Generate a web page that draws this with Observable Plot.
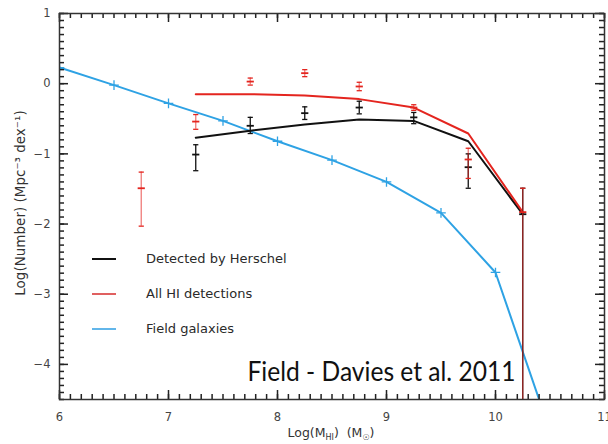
<!DOCTYPE html>
<html>
<head>
<meta charset="utf-8">
<script src="https://cdn.jsdelivr.net/npm/d3@7"></script>
<script src="https://cdn.jsdelivr.net/npm/@observablehq/plot@0.6"></script>
<style>
  html, body { margin: 0; padding: 0; background: #fff; }
  #wrap { position: relative; width: 608px; height: 444px; overflow: hidden; }
  #legend { position: absolute; left: 92px; top: 241px; font: 13px "DejaVu Sans", sans-serif; color: #2a2a2a; }
  #legend .row { height: 35px; display: flex; align-items: center; }
  #legend .sw { width: 24px; height: 2px; margin-right: 30px; }
</style>
</head>
<body>
<div id="wrap"></div>
<script>
// ---- tick labels ----
const xTicks = [6, 7, 8, 9, 10, 11];
const yTicks = [1, 0, -1, -2, -3, -4];

// ---- Field galaxies (blue) ----
const fieldLogM = [6.0, 6.5, 7.0, 7.5, 8.0, 8.5, 9.0, 9.5, 10.0, 10.5];
const fieldLogN = [0.23, -0.02, -0.28, -0.53, -0.82, -1.09, -1.40, -1.84, -2.69, -4.95];

// ---- model curves (black: Herschel, red: all HI) ----
const binLogM = [7.25, 7.75, 8.25, 8.75, 9.25, 9.75, 10.25];
const herschelModel = [-0.77, -0.67, -0.58, -0.51, -0.53, -0.82, -1.86];
const allHIModel = [-0.15, -0.15, -0.17, -0.22, -0.34, -0.71, -1.83];

// ---- measured points with error bars: All HI (red) ----
const hiPtLogM = [6.75, 7.25, 7.75, 8.25, 8.75, 9.25, 9.75, 10.25];
const hiPtLogN = [-1.49, -0.54, 0.03, 0.15, -0.04, -0.34, -1.08, -1.83];
const hiPtUp   = [-1.26, -0.44, 0.08, 0.20, 0.02, -0.30, -0.92, -1.49];
const hiPtDown = [-2.03, -0.65, -0.02, 0.10, -0.10, -0.38, -1.35, -6.0];

// ---- measured points with error bars: Detected by Herschel (black) ----
const herPtLogM = [7.25, 7.75, 8.25, 8.75, 9.25, 9.75, 10.25];
const herPtLogN = [-1.01, -0.60, -0.42, -0.34, -0.48, -1.19, -1.86];
const herPtUp   = [-0.87, -0.48, -0.33, -0.25, -0.41, -1.00, -1.49];
const herPtDown = [-1.24, -0.71, -0.51, -0.43, -0.57, -1.49, -6.0];

// ---- texts ----
const legendLabels = ["Detected by Herschel", "All HI detections", "Field galaxies"];
const caption = "Field - Davies et al. 2011";
const yLabel = "Log(Number) (Mpc\u207B\u00B3 dex\u207B\u00B9)";
const xLabelParts = [["Log(M", false], ["HI", true], [")\u00A0\u00A0(M", false], ["\u2609", true], [")", false]];

// ---- styles ----
const BLUE = "#2ea2e4", RED = "#e4251f", BLACK = "#111111";
const legendColors = [BLACK, "#e06060", "#62b6ea"];

// ---- tables ----
const field = fieldLogM.map((x, i) => ({x, y: fieldLogN[i]}));
const herLine = binLogM.map((x, i) => ({x, y: herschelModel[i]}));
const hiLine = binLogM.map((x, i) => ({x, y: allHIModel[i]}));
const hiPts = hiPtLogM.map((x, i) => ({x, y: hiPtLogN[i], hi: hiPtUp[i], lo: hiPtDown[i]}));
const herPts = herPtLogM.map((x, i) => ({x, y: herPtLogN[i], hi: herPtUp[i], lo: herPtDown[i]}));

const xMinor = d3.range(60, 111).map(d => d / 10);
const yMinor = d3.range(-45, 11).map(d => d / 10);

// horizontal bar symbol for error caps and point markers
const hbar = {draw(ctx, size) { const w = Math.sqrt(size / Math.PI); ctx.moveTo(-w, 0); ctx.lineTo(w, 0); }};

function errMarks(pts, color, op) {
  return [
    Plot.ruleX(pts, {x: "x", y1: "lo", y2: "hi", stroke: color, strokeWidth: 1.3, strokeOpacity: op, clip: true}),
    Plot.dot(pts, {x: "x", y: "hi", symbol: hbar, r: 2.6, stroke: color, strokeWidth: 1.3, fill: "none", clip: true}),
    Plot.dot(pts, {x: "x", y: "lo", symbol: hbar, r: 2.6, stroke: color, strokeWidth: 1.3, fill: "none", clip: true}),
    Plot.dot(pts, {x: "x", y: "y", symbol: hbar, r: 3.6, stroke: color, strokeWidth: 1.8, fill: "none", clip: true})
  ];
}

// layout
const W = 608, H = 444, ML = 59, MR = 4, MT = 13, MB = 45;
const FW = W - ML - MR, FH = H - MT - MB;
const MAJ = 9, MIN = 5;
const tickSty = {stroke: "#222", strokeWidth: 1.5, strokeOpacity: 1};

const plot = Plot.plot({
  width: W, height: H,
  marginLeft: ML, marginRight: MR, marginTop: MT, marginBottom: MB,
  x: {domain: [6, 11]},
  y: {domain: [-4.5, 1]},
  style: {background: "white", color: "#333", fontFamily: "DejaVu Sans, sans-serif"},
  marks: [
    Plot.line(field, {x: "x", y: "y", stroke: BLUE, strokeWidth: 2, clip: true}),
    Plot.dot(field, {x: "x", y: "y", symbol: "plus", r: 3.2, stroke: BLUE, strokeWidth: 1.3, clip: true}),
    Plot.line(herLine, {x: "x", y: "y", stroke: BLACK, strokeWidth: 2, clip: true}),
    Plot.line(hiLine, {x: "x", y: "y", stroke: RED, strokeWidth: 2, clip: true}),
    ...errMarks(herPts, BLACK, 1),
    ...errMarks(hiPts, RED, 0.6),
    // inward ticks on all four sides
    Plot.tickX(xTicks, {x: d => d, insetTop: FH - MAJ, ...tickSty}),
    Plot.tickX(xMinor, {x: d => d, insetTop: FH - MIN, ...tickSty}),
    Plot.tickX(xTicks, {x: d => d, insetBottom: FH - MAJ, ...tickSty}),
    Plot.tickX(xMinor, {x: d => d, insetBottom: FH - MIN, ...tickSty}),
    Plot.tickY(yTicks, {y: d => d, insetRight: FW - MAJ, ...tickSty}),
    Plot.tickY(yMinor, {y: d => d, insetRight: FW - MIN, ...tickSty}),
    Plot.tickY(yTicks, {y: d => d, insetLeft: FW - MAJ, ...tickSty}),
    Plot.tickY(yMinor, {y: d => d, insetLeft: FW - MIN, ...tickSty}),
    Plot.frame({stroke: "#333", strokeWidth: 1.5}),
    Plot.axisX({ticks: xTicks, anchor: "bottom", tickSize: 0, tickPadding: 13, fontSize: 11.5, label: null, fill: "#444",
      tickFormat: d => String(d)}),
    Plot.axisY({ticks: yTicks, anchor: "left", tickSize: 0, tickPadding: 9, fontSize: 11.5, label: null, fill: "#444",
      tickFormat: d => d < 0 ? "\u2212" + Math.abs(d) : String(d)}),
    Plot.text([caption], {frameAnchor: "bottom-right", textAnchor: "end", lineAnchor: "bottom",
      dx: -89, dy: -19, fontSize: 26, fontFamily: "Lato, sans-serif", fill: "#111"})
  ]
});

const wrap = document.getElementById("wrap");
wrap.appendChild(plot);

const svg = d3.select(plot);
// compress caption to its width in the reference
svg.selectAll("text").filter(function () { return this.textContent === caption; })
  .attr("textLength", 268).attr("lengthAdjust", "spacingAndGlyphs");

// y axis title
svg.append("text")
  .attr("transform", "translate(25,203) rotate(-90)")
  .attr("text-anchor", "middle")
  .attr("font-size", 13.5).attr("fill", "#333")
  .attr("font-family", "DejaVu Sans, sans-serif")
  .text(yLabel);

// x axis title with subscripts
const xl = svg.append("text")
  .attr("x", 331).attr("y", 437)
  .attr("text-anchor", "middle").attr("font-size", 12.5).attr("fill", "#333")
  .attr("font-family", "DejaVu Sans, sans-serif");
xLabelParts.forEach(([t, sub], i) => {
  const prevSub = i > 0 && xLabelParts[i - 1][1];
  const ts = xl.append("tspan").text(t);
  if (sub) ts.attr("font-size", 8).attr("dy", 3);
  else if (prevSub) ts.attr("dy", -3);
});

// legend overlay
const legend = d3.select(wrap).append("div").attr("id", "legend");
legendLabels.forEach((lab, i) => {
  const row = legend.append("div").attr("class", "row");
  row.append("div").attr("class", "sw").style("background", legendColors[i]);
  row.append("span").text(lab);
});
</script>
</body>
</html>
